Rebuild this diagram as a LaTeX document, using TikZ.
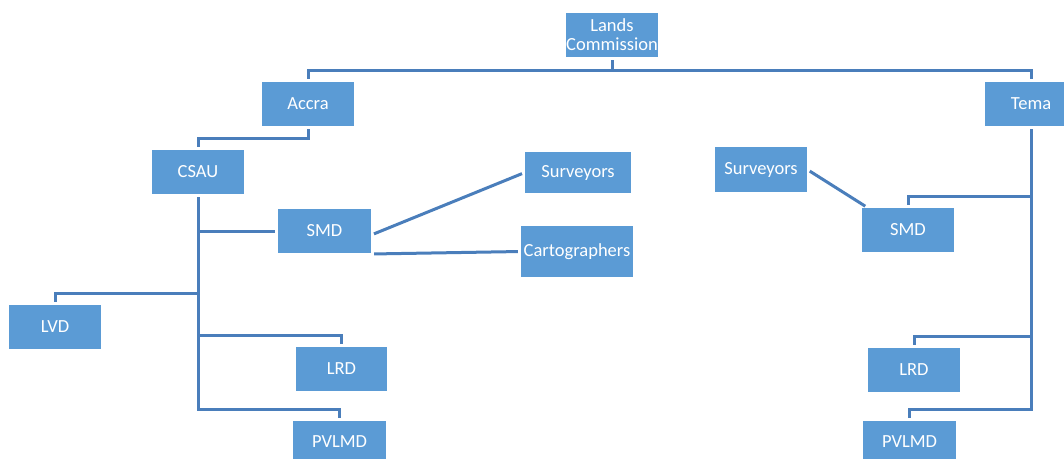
\documentclass[tikz,border=0pt]{standalone}
\usepackage{fontspec}
\setmainfont{Carlito}

\definecolor{boxblue}{HTML}{5B9BD5}
\definecolor{lineblue}{HTML}{4A7EBB}

\begin{document}
\begin{tikzpicture}[x=1pt, y=-1pt,
    unit/.style={fill=boxblue, text=white, inner sep=0pt, minimum width=92pt,
      minimum height=44pt, align=center, font=\fontsize{18.5}{19.5}\selectfont},
    link/.style={draw=lineblue, line width=3pt, shorten <=3pt, shorten >=3pt},
    tap/.style={draw=lineblue, line width=3pt, shorten >=3pt}]
    \useasboundingbox (0,0) rectangle (1064,458);
    \clip (0,0) rectangle (1064,458);

    \node[unit] (lc) at (612, 34.5) {Lands\\Commission};
    \node[unit] (accra) at (308, 104) {Accra};
    \node[unit] (tema) at (1031, 104) {Tema};
    \node[unit] (csau) at (198, 172) {CSAU};
    \node[unit, minimum width=93pt] (smdL) at (324.5, 231) {SMD};
    \node[unit, minimum width=106pt, minimum height=41pt] (survL) at (578, 172.5) {Surveyors};
    \node[unit, minimum width=112pt, minimum height=51pt] (carto) at (577, 251.5) {Cartographers};
    \node[unit] (lvd) at (55, 327) {LVD};
    \node[unit, minimum width=91pt] (lrdL) at (341.5, 369) {LRD};
    \node[unit, minimum width=93pt, minimum height=42pt] (pvlmdL) at (339.5, 442) {PVLMD};
    \node[unit, minimum height=45pt] (survR) at (761, 169.5) {Surveyors};
    \node[unit] (smdR) at (908, 230) {SMD};
    \node[unit] (lrdR) at (914, 370) {LRD};
    \node[unit, minimum width=93pt, minimum height=42pt] (pvlmdR) at (909.5, 442) {PVLMD};

    \coordinate (bus) at (612, 70);
    \coordinate (tapL0) at (198, 231);
    \coordinate (tapL1) at (198, 293);
    \coordinate (tapL2) at (198, 335);
    \coordinate (tapL3) at (198, 409);
    \coordinate (tapR1) at (1031, 196);
    \coordinate (tapR2) at (1031, 336);
    \coordinate (tapR3) at (1031, 409);

    % top level
    \draw[tap] (bus) -- (lc);
    \draw[link] (accra.north) |- (bus) -| (tema.north);

    % Accra side
    \draw[link] (accra.south) -- ++(0,12) -| (csau.north);
    \draw[link] (csau.south) -- (tapL3) -| (pvlmdL.north);
    \draw[tap] (tapL0) -- (smdL.west);
    \draw[tap] (tapL1) -| (lvd.north);
    \draw[tap] (tapL2) -| (lrdL.north);
    \draw[link] ([yshift=-4pt]smdL.east) -- (survL.west);
    \draw[link] ([yshift=-23pt]smdL.east) -- (carto.west);

    % Tema side
    \draw[link] (tema.south) -- (tapR3) -| (pvlmdR.north);
    \draw[tap] (tapR1) -| (smdR.north);
    \draw[tap] (tapR2) -| (lrdR.north);
    \draw[link] (survR.east) -- ([xshift=6pt]smdR.north west);
  \end{tikzpicture}
\end{document}
